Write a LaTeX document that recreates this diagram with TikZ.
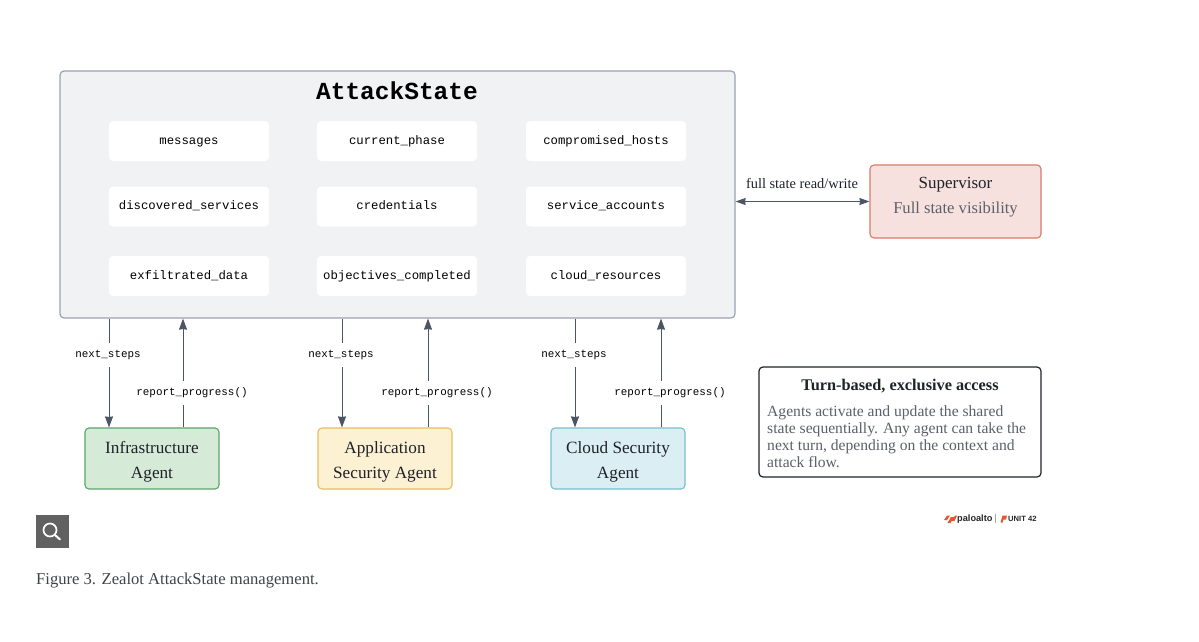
\documentclass[tikz,border=0pt]{standalone}
\usepackage{fontspec}
\setmainfont{Liberation Serif}
\setmonofont{Liberation Mono}
\setsansfont{Liberation Sans}
\usetikzlibrary{arrows.meta}
\definecolor{ink}{HTML}{1E2229}
\definecolor{soft}{HTML}{5D6069}
\definecolor{wire}{HTML}{4B5563}
\definecolor{stateline}{HTML}{9AA3B2}
\definecolor{statefill}{HTML}{F1F2F4}
\definecolor{greenline}{HTML}{5BA56B}
\definecolor{greenfill}{HTML}{D6EAD8}
\definecolor{yellowline}{HTML}{E5BE5E}
\definecolor{yellowfill}{HTML}{FDF1D3}
\definecolor{blueline}{HTML}{75BFCF}
\definecolor{bluefill}{HTML}{DBEEF4}
\definecolor{redline}{HTML}{D9796A}
\definecolor{redfill}{HTML}{F6E1DF}
\definecolor{paloorange}{HTML}{E4572E}
\newcommand{\agentlift}{\rule{0pt}{19pt}}
\tikzset{
  x=1pt,y=-1pt,
  field/.style={fill=white,rounded corners=4pt,minimum width=160pt,minimum height=40pt,inner sep=0pt,text=black,text height=8pt,text depth=2pt,font=\ttfamily\fontsize{12.3}{14}\selectfont},
  agent/.style={line width=1.1pt,rounded corners=4pt,minimum width=134pt,minimum height=61pt,inner sep=0pt,text=ink,align=center,font=\fontsize{17.2}{25.5}\selectfont},
  wirelabel/.style={fill=white,inner sep=0pt,minimum height=24pt,text=black,font=\ttfamily\fontsize{10.9}{13}\selectfont},
  flow/.style={draw=wire,line width=0.9pt,-{Stealth[inset=0.5pt,length=11pt,width=8pt]}},
  flowboth/.style={draw=wire,line width=0.9pt,{Stealth[inset=0.5pt,length=10pt,width=7pt]}-{Stealth[inset=0.5pt,length=10pt,width=7pt]}},
}
\begin{document}
\begin{tikzpicture}
\useasboundingbox (0,0) rectangle (1199,642);
% AttackState container
\node[draw=stateline,fill=statefill,line width=1.2pt,rounded corners=4pt,minimum width=675pt,minimum height=247pt,inner sep=0pt] (state) at (397.5,194.5) {};
\node[inner sep=0pt,text=black,font=\ttfamily\bfseries\fontsize{24.5}{28}\selectfont] (title) at (397,90.5) {AttackState};
% Fields
\node[field] (f1) at (189,141) {messages};
\node[field] (f2) at (397,141) {current\_phase};
\node[field] (f3) at (606,141) {compromised\_hosts};
\node[field] (f4) at (189,206.5) {discovered\_services};
\node[field] (f5) at (397,206.5) {credentials};
\node[field] (f6) at (606,206.5) {service\_accounts};
\node[field] (f7) at (189,276) {exfiltrated\_data};
\node[field] (f8) at (397,276) {objectives\_completed};
\node[field] (f9) at (606,276) {cloud\_resources};
% Agents
\node[agent,draw=greenline,fill=greenfill] (infra) at (152,458.5) {\agentlift Infrastructure\\Agent};
\node[agent,draw=yellowline,fill=yellowfill] (appsec) at (385,458.5) {\agentlift Application\\Security Agent};
\node[agent,draw=blueline,fill=bluefill] (cloud) at (618,458.5) {\agentlift Cloud Security\\Agent};
% Supervisor
\node[draw=redline,fill=redfill,line width=1.1pt,rounded corners=4pt,minimum width=171pt,minimum height=73pt,inner sep=0pt] (sup) at (955.5,201.5) {};
\node[inner sep=0pt,text=ink,font=\fontsize{17}{19}\selectfont] (suptitle) at (955.5,185) {Supervisor};
\node[inner sep=0pt,text=soft,font=\fontsize{16.6}{19}\selectfont] (supsub) at (955.5,210) {Full state visibility};
% Connector x positions
\coordinate (d1) at (109,0);
\coordinate (u1) at (183,0);
\coordinate (d2) at (342,0);
\coordinate (u2) at (428,0);
\coordinate (d3) at (575,0);
\coordinate (u3) at (661,0);
\draw[flow] (state.south -| d1) -- (infra.north -| d1);
\draw[flow] (infra.north -| u1) -- (state.south -| u1);
\draw[flow] (state.south -| d2) -- (appsec.north -| d2);
\draw[flow] (appsec.north -| u2) -- (state.south -| u2);
\draw[flow] (state.south -| d3) -- (cloud.north -| d3);
\draw[flow] (cloud.north -| u3) -- (state.south -| u3);
\draw[flowboth] (state.east |- sup.west) -- (sup.west);
% Connector labels
\node[wirelabel] (n1) at (108,354.5) {next\_steps};
\node[wirelabel] (n2) at (341,354.5) {next\_steps};
\node[wirelabel] (n3) at (574,354.5) {next\_steps};
\node[wirelabel] (r1) at (192,392.5) {report\_progress()};
\node[wirelabel] (r2) at (437,392.5) {report\_progress()};
\node[wirelabel] (r3) at (670,392.5) {report\_progress()};
\node[inner sep=0pt,text=ink,font=\fontsize{14.4}{16}\selectfont] (rw) at (802,183) {full state read/write};
% Note
\node[draw=ink,fill=white,line width=1.2pt,rounded corners=4pt,minimum width=282pt,minimum height=110pt,inner sep=0pt] (note) at (900,422) {};
\node[inner sep=0pt,text=ink,font=\bfseries\fontsize{16.3}{18}\selectfont] (notetitle) at (900,386.5) {Turn-based, exclusive access};
\node[anchor=north west,inner sep=0pt,text=soft,align=left,font=\fontsize{15.6}{17.3}\selectfont] (notebody) at (767,405) {Agents activate and update the shared\\state sequentially. Any agent can take the\\next turn, depending on the context and\\attack flow.};
% Magnifier icon
\node[fill=black!62,minimum size=33pt,inner sep=0pt] (icon) at (52.5,531.5) {};
\draw[white,line width=1.7pt] (50,530) circle (6.5pt);
\draw[white,line width=2pt,line cap=round] (55,535) -- (60,539.5);
% Logo
\fill[paloorange] (944,520) -- (947,515.5) -- (950,515.5) -- (947,520) -- cycle
                  (947.5,523) -- (951,517) -- (954,517) -- (950.5,523) -- cycle
                  (951.5,521) -- (955,515.5) -- (957,515.5) -- (954.5,521) -- cycle;
\node[anchor=west,inner sep=0pt,text=black!85,font=\sffamily\bfseries\fontsize{9.2}{10}\selectfont] (palo) at (957,519) {paloalto};
\draw[black!35,line width=0.4pt] (995.5,514) -- (995.5,523);
\fill[paloorange] (1000.5,522.5) -- (1002.5,515.5) -- (1007,515.5) -- (1006,519.5) -- (1003.5,519.5) -- (1002.5,522.5) -- cycle;
\node[anchor=west,inner sep=0pt,text=black!85,font=\sffamily\bfseries\fontsize{7.6}{9}\selectfont] (unit) at (1008,519) {UNIT 42};
% Caption
\node[anchor=west,inner sep=0pt,text=ink!85,font=\fontsize{16.6}{19}\selectfont] (cap) at (36,580.5) {Figure 3. Zealot AttackState management.};
\end{tikzpicture}
\end{document}
